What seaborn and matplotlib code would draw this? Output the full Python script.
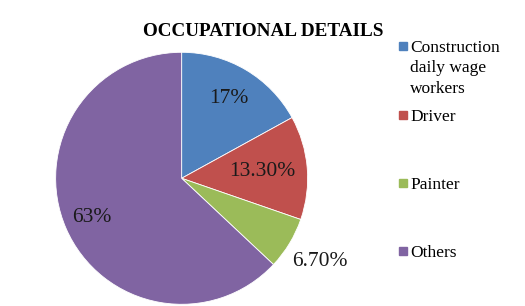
import matplotlib
matplotlib.use("Agg")
import matplotlib.pyplot as plt
import seaborn as sns
import numpy as np
from matplotlib.patches import Rectangle

categories = ["Construction\ndaily wage\nworkers", "Driver", "Painter", "Others"]
values = [17.0, 13.3, 6.7, 63.0]
labels = ["17%", "13.30%", "6.70%", "63%"]
colors = ["#4F81BD", "#C0504D", "#9BBB59", "#8064A2"]
label_dist = [0.74, 0.64, 1.28, 0.78]

sns.set_theme(style="white")
plt.rcParams['font.family'] = ['Liberation Serif', 'DejaVu Serif']

fig = plt.figure(figsize=(5.25, 3.06), dpi=100)
ax = fig.add_axes([0.106, 0.0056, 0.48, 0.8235])
wedges, _ = ax.pie(values, colors=colors, startangle=90, counterclock=False,
                   radius=1.0, wedgeprops=dict(edgecolor="white", linewidth=0.6))
ax.set_xlim(-1, 1)
ax.set_ylim(-1, 1)
ax.set_aspect("equal")
ax.axis("off")

for w, lab, d in zip(wedges, labels, label_dist):
    ang = np.deg2rad((w.theta1 + w.theta2) / 2)
    ax.text(d * np.cos(ang), d * np.sin(ang), lab, ha="center", va="center",
            fontsize=15.5, color="#1a1a1a", clip_on=False)

fig.text(263 / 525, 1 - 31 / 306, "OCCUPATIONAL DETAILS", ha="center", va="center",
         fontsize=13.8, fontweight="bold", color="black")

ys = [45.7, 115, 183, 251]
for cat, col, y in zip(categories, colors, ys):
    fig.patches.append(Rectangle(((399) / 525, 1 - (y + 4) / 306), 8 / 525, 8 / 306,
                                 transform=fig.transFigure, color=col, figure=fig))
    fig.text(410 / 525, 1 - (y - 6) / 306, cat, ha="left", va="top", fontsize=12.5,
             color="black", linespacing=1.38)

fig.savefig("out.png", dpi=100)
